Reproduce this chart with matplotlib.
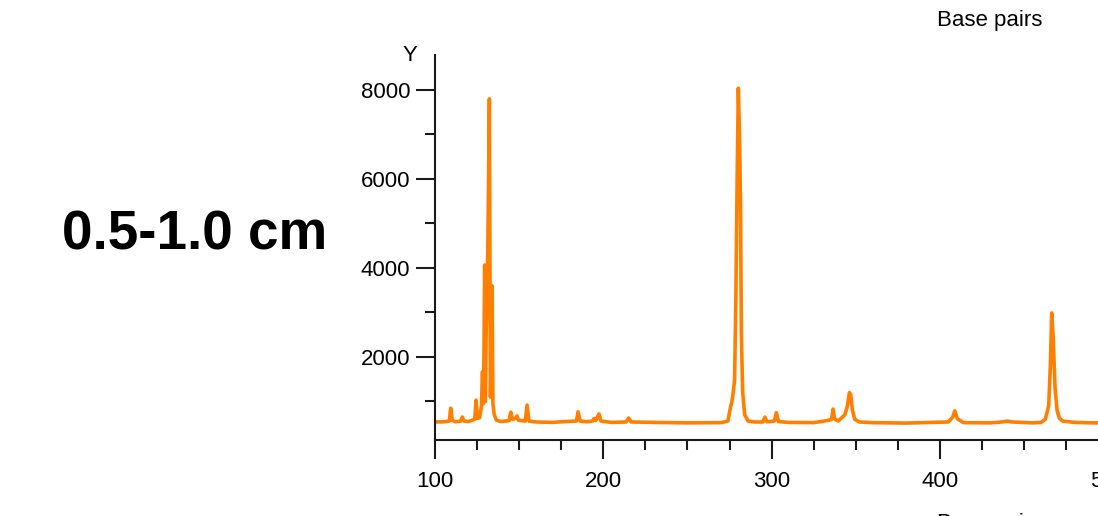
import matplotlib.pyplot as plt
from matplotlib.ticker import MultipleLocator

plt.rcParams['font.family'] = ['Liberation Sans', 'DejaVu Sans']

# trace: base pairs vs signal
bp = [100, 105, 108.5, 109.3, 110.2, 112, 115.3, 116.2, 117.2, 120, 123.6, 124.4, 125.2,
      126.5, 127.6, 128.2, 128.7, 129.1, 129.5, 129.9, 130.4, 131.0, 131.6, 132.3, 132.9,
      133.4, 133.9, 134.4, 135.2, 136.5, 139, 144, 145, 146, 147.8, 148.7, 149.6, 153.6,
      154.7, 155.8, 160, 170, 175, 184, 185, 186.2, 190, 193.5, 194.5, 195.5, 197.4, 198.6,
      205, 213.6, 215, 216.6, 230, 250, 270, 274, 275.6, 276.4, 277.2, 278.0, 278.8, 279.5,
      280.2, 280.9, 281.5, 282.0, 282.8, 284, 286, 290, 294.8, 296, 297.2, 301.6, 302.8, 304,
      310, 325, 331, 334, 335.6, 336.5, 337.4, 339.5, 343.5, 345, 346.2, 347, 348, 349.4,
      352, 360, 380, 405, 407.6, 408.8, 410.4, 414, 430, 437, 440, 443, 455, 460, 462.6,
      464.6, 465.6, 466.4, 467.2, 468.4, 469.6, 471, 473, 480, 490, 500, 520]
signal = [540, 545, 560, 850, 580, 545, 560, 650, 560, 550, 600, 1030, 620,
          640, 900, 1670, 950, 2200, 4067, 1000, 2600, 3400, 5200, 7800, 1100,
          2000, 3600, 950, 700, 580, 550, 570, 760, 600, 620, 675, 580, 560,
          920, 560, 540, 530, 545, 560, 770, 560, 545, 560, 620, 570, 720, 560,
          530, 540, 630, 540, 530, 520, 525, 560, 880, 1000, 1210, 1500, 3500, 6000,
          8040, 7000, 5460, 2500, 1200, 700, 560, 540, 540, 650, 545, 560, 750, 550,
          530, 525, 560, 580, 600, 830, 610, 560, 700, 900, 1200, 1150, 800, 600,
          540, 525, 515, 540, 650, 790, 610, 525, 520, 540, 560, 540, 520, 530, 600,
          900, 1800, 2990, 2500, 1300, 800, 620, 560, 530, 520, 520, 520]

x_major = [100, 200, 300, 400, 500]
y_major = [2000, 4000, 6000, 8000]

fig = plt.figure(figsize=(10.98, 5.16), dpi=100)
ax = fig.add_axes([0.3962, 0.1473, 0.6438, 0.7461])

ax.plot(bp, signal, color='#ff7f00', lw=2.6, solid_joinstyle='round')

ax.set_xlim(100, 520)
ax.set_ylim(135, 8786)
ax.set_xticks(x_major)
ax.set_yticks(y_major)
ax.xaxis.set_minor_locator(MultipleLocator(25))
ax.yaxis.set_minor_locator(MultipleLocator(1000))

for s in ['top', 'right']:
    ax.spines[s].set_visible(False)
for s in ['left', 'bottom']:
    ax.spines[s].set_linewidth(1.5)
    ax.spines[s].set_color('#1a1a1a')

ax.tick_params(which='major', length=13.7, width=1.5, color='#1a1a1a', labelsize=16)
ax.tick_params(which='minor', length=7.2, width=1.5, color='#1a1a1a')
ax.tick_params(axis='x', which='major', pad=8.6)
ax.tick_params(axis='y', which='major', pad=4.3)

# axis labels placed the way the original shows them
fig.text(410 / 1098, (516 - 61) / 516, 'Y', fontsize=16, ha='center', va='baseline')
fig.text(990 / 1098, (516 - 26) / 516, 'Base pairs', fontsize=16, ha='center', va='baseline')
fig.text(990 / 1098, -13 / 516, 'Base pairs', fontsize=16, ha='center', va='baseline')

fig.text(62 / 1098, (516 - 250) / 516, '0.5-1.0 cm', fontsize=39.5, fontweight='bold',
         ha='left', va='baseline')

fig.savefig('out.png', dpi=100)
